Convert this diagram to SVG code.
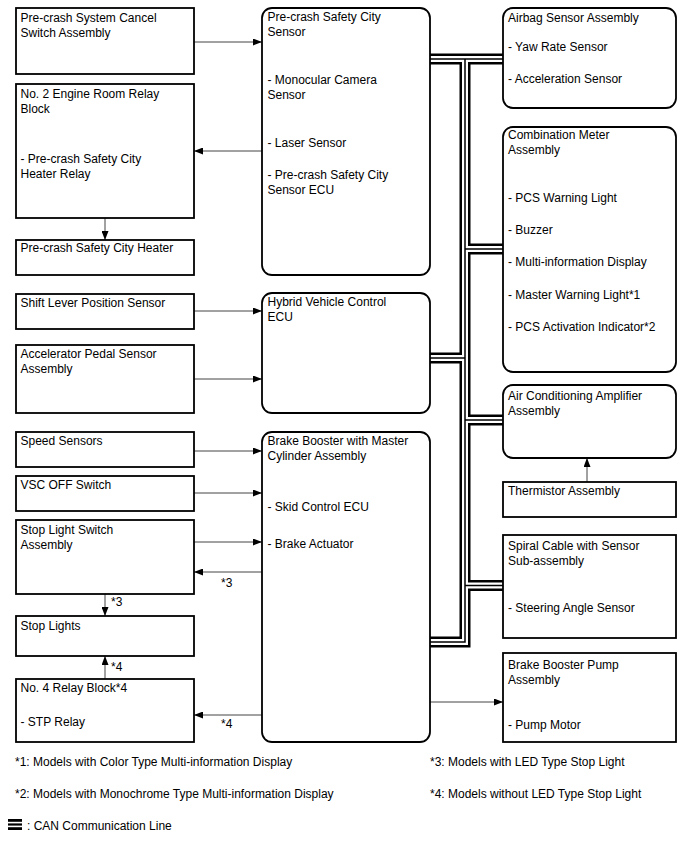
<svg xmlns="http://www.w3.org/2000/svg" width="688" height="852" viewBox="0 0 688 852">
<defs>
<marker id="ah" markerUnits="userSpaceOnUse" markerWidth="9" markerHeight="7" refX="9" refY="3.5" orient="auto">
<path d="M0,0 L9,3.5 L0,7 z" fill="#000"/>
</marker>
<style>
text{font-family:"Liberation Sans",Arial,sans-serif;font-size:12px;fill:#000}
.sq{fill:#fff;stroke:#000;stroke-width:1.8}
.rd{fill:#fff;stroke:#000;stroke-width:1.8}
.ar{fill:none;stroke:#444;stroke-width:1;marker-end:url(#ah)}
.b1{fill:none;stroke:#000;stroke-width:11}
.b2{fill:none;stroke:#fff;stroke-width:6}
.b3{fill:none;stroke:#000;stroke-width:1.5}
</style>
</defs>
<rect width="688" height="852" fill="#fff"/>
<g id="connectors">
<g id="can-bus">
<g class="b1"><path d="M430,59 H503"/><path d="M465,59 V642 H430"/><path d="M465,249 H503"/><path d="M430,358 H465"/><path d="M465,420 H503"/><path d="M465,585.5 H503"/></g>
<g class="b2"><path d="M430,59 H503"/><path d="M465,59 V642 H430"/><path d="M465,249 H503"/><path d="M430,358 H465"/><path d="M465,420 H503"/><path d="M465,585.5 H503"/></g>
<g class="b3"><path d="M430,59 H503"/><path d="M465,59 V642 H430"/><path d="M465,249 H503"/><path d="M430,358 H465"/><path d="M465,420 H503"/><path d="M465,585.5 H503"/></g>
</g>
<path class="ar" d="M194,42 H262"/>
<path class="ar" d="M262,151 H194"/>
<path class="ar" d="M105,218 V240"/>
<path class="ar" d="M194,311 H262"/>
<path class="ar" d="M194,379 H262"/>
<path class="ar" d="M194,451 H262"/>
<path class="ar" d="M194,493 H262"/>
<path class="ar" d="M194,542 H262"/>
<path class="ar" d="M262,572 H194"/>
<path class="ar" d="M105,594 V616"/>
<path class="ar" d="M105,679 V656"/>
<path class="ar" d="M262,715 H194"/>
<path class="ar" d="M430,702 H503"/>
<path class="ar" d="M587,482 V458"/>
<text x="221" y="587">*3</text>
<text x="111" y="606">*3</text>
<text x="111" y="671">*4</text>
<text x="221" y="728">*4</text>
</g>
<g id="n-cancel-switch"><rect class="sq" x="16" y="8" width="178" height="66"/><text x="20.5" y="22">Pre-crash System Cancel</text><text x="20.5" y="37">Switch Assembly</text></g>
<g id="n-relay-block2"><rect class="sq" x="16" y="84" width="178" height="134"/><text x="20.5" y="98">No. 2 Engine Room Relay</text><text x="20.5" y="113">Block</text><text x="20.5" y="163">- Pre-crash Safety City</text><text x="20.5" y="178">Heater Relay</text></g>
<g id="n-heater"><rect class="sq" x="16" y="240" width="178" height="35"/><text x="20.5" y="252">Pre-crash Safety City Heater</text></g>
<g id="n-shift"><rect class="sq" x="16" y="294" width="178" height="35"/><text x="20.5" y="307">Shift Lever Position Sensor</text></g>
<g id="n-accel"><rect class="sq" x="16" y="345" width="178" height="68"/><text x="20.5" y="358">Accelerator Pedal Sensor</text><text x="20.5" y="373">Assembly</text></g>
<g id="n-speed"><rect class="sq" x="16" y="432" width="178" height="35"/><text x="20.5" y="445">Speed Sensors</text></g>
<g id="n-vsc"><rect class="sq" x="16" y="476" width="178" height="35"/><text x="20.5" y="489">VSC OFF Switch</text></g>
<g id="n-stopsw"><rect class="sq" x="16" y="520" width="178" height="74"/><text x="20.5" y="534">Stop Light Switch</text><text x="20.5" y="549">Assembly</text></g>
<g id="n-stoplights"><rect class="sq" x="16" y="616" width="178" height="40"/><text x="20.5" y="629.5">Stop Lights</text></g>
<g id="n-relay4"><rect class="sq" x="16" y="679" width="178" height="63"/><text x="20.5" y="691.5">No. 4 Relay Block*4</text><text x="20.5" y="725.5">- STP Relay</text></g>
<g id="n-pcs-sensor"><rect class="rd" x="262" y="8" width="168" height="267" rx="10"/><text x="267.5" y="21">Pre-crash Safety City</text><text x="267.5" y="36">Sensor</text><text x="267.5" y="84">- Monocular Camera</text><text x="267.5" y="99">Sensor</text><text x="267.5" y="147">- Laser Sensor</text><text x="267.5" y="179">- Pre-crash Safety City</text><text x="267.5" y="194">Sensor ECU</text></g>
<g id="n-hv-ecu"><rect class="rd" x="262" y="293" width="168" height="120" rx="10"/><text x="267.5" y="306">Hybrid Vehicle Control</text><text x="267.5" y="321">ECU</text></g>
<g id="n-brake-booster"><rect class="rd" x="262" y="432" width="168" height="310" rx="10"/><text x="267.5" y="445">Brake Booster with Master</text><text x="267.5" y="460">Cylinder Assembly</text><text x="267.5" y="511">- Skid Control ECU</text><text x="267.5" y="548">- Brake Actuator</text></g>
<g id="n-airbag"><rect class="rd" x="503" y="8" width="173" height="100" rx="10"/><text x="508" y="22">Airbag Sensor Assembly</text><text x="508" y="51">- Yaw Rate Sensor</text><text x="508" y="83">- Acceleration Sensor</text></g>
<g id="n-meter"><rect class="rd" x="503" y="127" width="173" height="245" rx="10"/><text x="508" y="139">Combination Meter</text><text x="508" y="154">Assembly</text><text x="508" y="202">- PCS Warning Light</text><text x="508" y="234">- Buzzer</text><text x="508" y="266">- Multi-information Display</text><text x="508" y="299">- Master Warning Light*1</text><text x="508" y="331">- PCS Activation Indicator*2</text></g>
<g id="n-ac-amp"><rect class="rd" x="503" y="385" width="173" height="73" rx="10"/><text x="508" y="400">Air Conditioning Amplifier</text><text x="508" y="415">Assembly</text></g>
<g id="n-thermistor"><rect class="sq" x="503" y="482" width="173" height="35"/><text x="508" y="495">Thermistor Assembly</text></g>
<g id="n-spiral"><rect class="sq" x="503" y="535" width="173" height="103"/><text x="508" y="550">Spiral Cable with Sensor</text><text x="508" y="565">Sub-assembly</text><text x="508" y="612">- Steering Angle Sensor</text></g>
<g id="n-pump"><rect class="sq" x="503" y="653" width="173" height="89"/><text x="508" y="669">Brake Booster Pump</text><text x="508" y="684">Assembly</text><text x="508" y="729">- Pump Motor</text></g>
<g id="legend">
<text x="15" y="766">*1: Models with Color Type Multi-information Display</text>
<text x="15" y="798">*2: Models with Monochrome Type Multi-information Display</text>
<text x="430" y="766">*3: Models with LED Type Stop Light</text>
<text x="430" y="798">*4: Models without LED Type Stop Light</text>
<rect x="8" y="819" width="14" height="11" fill="#000"/>
<rect x="8" y="821.8" width="14" height="1.6" fill="#fff"/>
<rect x="8" y="825.6" width="14" height="1.6" fill="#fff"/>
<text x="27" y="830">: CAN Communication Line</text>
</g>
</svg>
